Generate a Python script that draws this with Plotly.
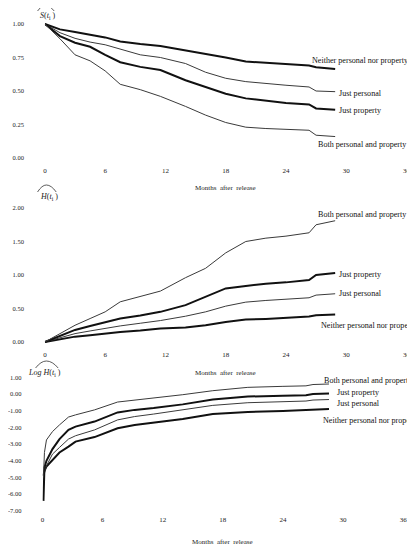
import plotly.graph_objects as go

# The page shows the figure with an 8px body margin, so the figure is sized to the rest of the window.
PAGE_W, PAGE_H, OFF = 415, 547, 8
W, H = PAGE_W - OFF, PAGE_H - OFF

# ---------------- data ----------------
groups = ["Neither personal nor property", "Just personal", "Just property", "Both personal and property"]

# Panel 1: survival S(t)
months_s = [0, 1.5, 3, 4.5, 6, 7.5, 9.5, 11.5, 14, 16, 18, 20, 22, 24, 26.3, 27, 28.9]
surv_neither = [1.0, 0.96, 0.94, 0.92, 0.90, 0.87, 0.85, 0.836, 0.805, 0.78, 0.75, 0.72, 0.71, 0.70, 0.69, 0.677, 0.664]
surv_personal = [1.0, 0.935, 0.893, 0.865, 0.845, 0.815, 0.77, 0.75, 0.705, 0.64, 0.595, 0.57, 0.555, 0.543, 0.53, 0.50, 0.495]
surv_property = [1.0, 0.91, 0.86, 0.83, 0.77, 0.715, 0.68, 0.657, 0.58, 0.53, 0.48, 0.445, 0.425, 0.41, 0.40, 0.37, 0.36]
surv_both = [1.0, 0.89, 0.77, 0.725, 0.65, 0.55, 0.51, 0.46, 0.385, 0.32, 0.265, 0.23, 0.22, 0.213, 0.207, 0.17, 0.16]

# Panel 2: cumulative hazard H(t)
months_h = [0, 1.5, 3, 4.5, 6, 7.5, 9.5, 11.5, 14, 16, 18, 20, 22, 24, 26.3, 27, 28.9]
haz_neither = [0, 0.04, 0.08, 0.10, 0.125, 0.15, 0.17, 0.20, 0.215, 0.25, 0.30, 0.335, 0.345, 0.36, 0.38, 0.40, 0.41]
haz_personal = [0, 0.065, 0.125, 0.165, 0.205, 0.24, 0.28, 0.32, 0.385, 0.45, 0.535, 0.595, 0.62, 0.64, 0.66, 0.70, 0.72]
haz_property = [0, 0.09, 0.18, 0.24, 0.29, 0.35, 0.395, 0.45, 0.55, 0.68, 0.80, 0.835, 0.87, 0.89, 0.925, 1.0, 1.03]
haz_both = [0, 0.12, 0.25, 0.35, 0.45, 0.60, 0.68, 0.76, 0.96, 1.10, 1.33, 1.50, 1.55, 1.58, 1.63, 1.75, 1.81]

# Panel 3: log cumulative hazard
months_l = [0.1, 0.2, 0.4, 1.0, 1.7, 2.6, 3.3, 5.2, 7.5, 9.2, 11.1, 14, 17, 20.5, 24, 26.3, 27, 28.6]
log_neither = [-4.9, -4.6, -4.35, -3.95, -3.5, -3.15, -2.85, -2.58, -2.05, -1.85, -1.72, -1.5, -1.2, -1.08, -1.02, -0.97, -0.92, -0.90]
log_personal = [-5.6, -4.7, -4.3, -3.6, -3.2, -2.7, -2.5, -2.15, -1.55, -1.35, -1.2, -0.93, -0.68, -0.52, -0.46, -0.42, -0.36, -0.33]
log_property = [-6.4, -4.4, -4.0, -3.3, -2.7, -2.15, -1.95, -1.65, -1.1, -0.95, -0.84, -0.62, -0.33, -0.15, -0.1, -0.07, 0.0, 0.03]
log_both = [-5.0, -3.5, -2.75, -2.25, -1.85, -1.38, -1.25, -0.95, -0.48, -0.37, -0.25, -0.04, 0.20, 0.40, 0.46, 0.49, 0.57, 0.60]

x_ticks = [0, 6, 12, 18, 24, 30, 36]
s_ticks = [0, 0.25, 0.5, 0.75, 1.0]
s_labels = ["0.00", "0.25", "0.50", "0.75", "1.00"]
h_ticks = [0, 0.5, 1.0, 1.5, 2.0]
h_labels = ["0.00", "0.50", "1.00", "1.50", "2.00"]
l_ticks = [1, 0, -1, -2, -3, -4, -5, -6, -7]
l_labels = ["1.00", "0.00", "-1.00", "-2.00", "-3.00", "-4.00", "-5.00", "-6.00", "-7.00"]
x_title = "Months  after  release"

# ---------------- styles ----------------
FONT = "Liberation Serif, Times New Roman, serif"
styles = {
    groups[0]: dict(color="#111111", width=2.0),
    groups[1]: dict(color="#3a3a3a", width=1.0),
    groups[2]: dict(color="#111111", width=2.0),
    groups[3]: dict(color="#3a3a3a", width=1.0),
}

def px(x):
    return (x - OFF) / W

def py(y):
    return 1 - (y - OFF) / H

fig = go.Figure()

panels = [
    ("x", "y", months_s, [surv_neither, surv_personal, surv_property, surv_both]),
    ("x2", "y2", months_h, [haz_neither, haz_personal, haz_property, haz_both]),
    ("x3", "y3", months_l, [log_neither, log_personal, log_property, log_both]),
]
for xa, ya, months, series in panels:
    for g, vals in zip(groups, series):
        fig.add_trace(go.Scatter(x=months, y=vals, mode="lines", line=styles[g],
                                 xaxis=xa, yaxis=ya, showlegend=False, hoverinfo="skip"))

# end-of-line labels (data coordinates of the text)
labels = [
    ("x", "y", 26.4, 0.724, groups[0]),
    ("x", "y", 29.1, 0.478, "Just personal"),
    ("x", "y", 29.1, 0.351, "Just property"),
    ("x", "y", 26.95, 0.104, groups[3]),
    ("x2", "y2", 27.0, 1.90, groups[3]),
    ("x2", "y2", 29.1, 1.01, "Just property"),
    ("x2", "y2", 29.1, 0.72, "Just personal"),
    ("x2", "y2", 27.3, 0.24, groups[0]),
    ("x3", "y3", 27.95, 0.84, groups[3]),
    ("x3", "y3", 29.15, 0.12, "Just property"),
    ("x3", "y3", 29.15, -0.54, "Just personal"),
    ("x3", "y3", 27.85, -1.56, groups[0]),
]
for xa, ya, x, y, t in labels:
    fig.add_annotation(x=x, y=y, xref=xa, yref=ya, text=t, showarrow=False,
                       xanchor="left", yanchor="middle",
                       font=dict(family=FONT, size=8.1, color="#111"))

# axis titles
for xp, yp, t in [(226, 188, x_title), (226, 373, x_title), (223, 542, x_title)]:
    fig.add_annotation(x=px(xp), y=py(yp), xref="paper", yref="paper", text=t,
                       showarrow=False, xanchor="center", yanchor="middle",
                       font=dict(family=FONT, size=7, color="#222"))

ytitles = [
    (35, 16, "<i>S</i>(<i>t</i><sub>i</sub> )", (35, 43, 52, 11, 5)),
    (35, 197, "<i>H</i>(<i>t</i><sub>i</sub> )", (35, 44, 54, 192, 185)),
    (23, 373, "<i>Log H</i>(<i>t</i><sub>i</sub> )", (33, 44, 56, 368, 361)),
]
for xp, yp, t, hat in ytitles:
    fig.add_annotation(x=px(xp), y=py(yp), xref="paper", yref="paper", text=t,
                       showarrow=False, xanchor="left", yanchor="middle",
                       font=dict(family=FONT, size=8, color="#222"))
    x0, xm, x1, yb, yt = hat
    path = (f"M {px(x0)},{py(yb)} Q {px((x0 + xm) / 2)},{py(yt)} {px(xm)},{py(yt)} "
            f"Q {px((xm + x1) / 2)},{py(yt)} {px(x1)},{py(yb)}")
    fig.add_shape(type="path", path=path, xref="paper", yref="paper",
                  line=dict(color="#333", width=0.8))

xcommon = dict(range=[0, 36], tickvals=x_ticks, ticktext=[str(v) for v in x_ticks],
               showgrid=False, zeroline=False, showline=False, ticks="",
               ticklabeloverflow="allow",
               tickfont=dict(family=FONT, size=7, color="#222"))
ycommon = dict(showgrid=False, zeroline=False, showline=False, ticks="",
               tickfont=dict(family=FONT, size=6.5, color="#222"), ticklabelstandoff=20)

fig.update_layout(
    width=W, height=H, autosize=False,
    margin=dict(l=0, r=0, t=0, b=0),
    paper_bgcolor="white", plot_bgcolor="white",
    xaxis=dict(domain=[px(42.5), px(410.4)], anchor="y", **xcommon),
    yaxis=dict(domain=[py(164.7), py(17.3)], range=[-0.05, 1.05], tickvals=s_ticks, ticktext=s_labels, anchor="x", **ycommon),
    xaxis2=dict(domain=[px(42.5), px(410.4)], anchor="y2", **xcommon),
    yaxis2=dict(domain=[py(348.7), py(201.3)], range=[-0.1, 2.1], tickvals=h_ticks, ticktext=h_labels, anchor="x2", **ycommon),
    xaxis3=dict(domain=[px(40), px(407)], anchor="y3", **xcommon),
    yaxis3=dict(domain=[py(514.2), py(374)], range=[-7.2, 1.2], tickvals=l_ticks, ticktext=l_labels, anchor="x3", **ycommon),
)

fig.write_html("out.html")
